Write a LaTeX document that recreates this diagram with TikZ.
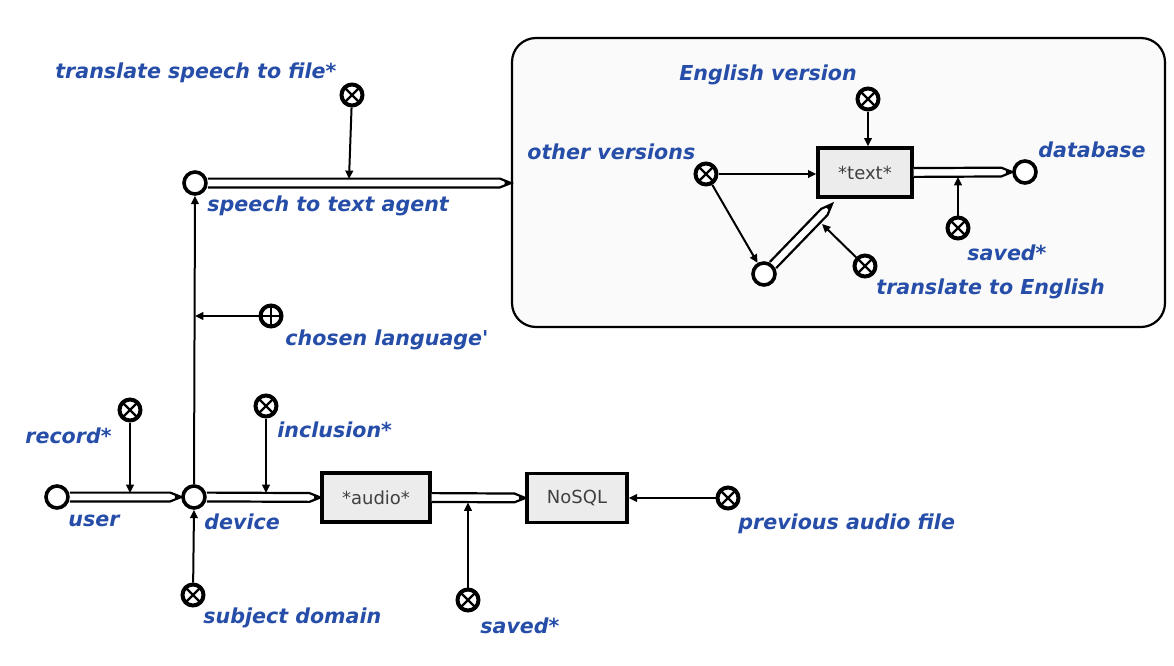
\documentclass[tikz,border=0pt]{standalone}
\usepackage{fontspec}
\newfontfamily\lblfam{DejaVu Sans}
\usetikzlibrary{arrows.meta,calc}
\definecolor{lblblue}{RGB}{38,78,168}
\definecolor{boxgray}{RGB}{236,236,236}
\newcommand\flowarr[2]{%
  \path (#1) coordinate (fa) (#2) coordinate (fb);
  \path ($(fb)!5.5pt!(fa)$) coordinate (fm);
  \draw[line width=1.1pt, fill=white, line join=miter]
    ($(fa)!2.2pt!90:(fb)$) -- ($(fm)!2.2pt!90:(fb)$) -- (fb) --
    ($(fm)!2.2pt!-90:(fb)$) -- ($(fa)!2.2pt!-90:(fb)$);
  \path ($(fb)!3.2pt!(fa)$) coordinate (fn);
  \fill ($(fn)!1.4pt!90:(fb)$) -- (fb) -- ($(fn)!1.4pt!-90:(fb)$) -- cycle;
}
\tikzset{
  place/.style={circle, draw, line width=1.8pt, fill=white, minimum size=11pt, inner sep=0pt},
  ctlx/.style={circle, draw, line width=2pt, fill=white, minimum size=10.5pt, inner sep=0pt,
    path picture={\draw[line width=1.2pt] (path picture bounding box.north west) -- (path picture bounding box.south east)
      (path picture bounding box.north east) -- (path picture bounding box.south west);}},
  ctlp/.style={circle, draw, line width=2pt, fill=white, minimum size=10.5pt, inner sep=0pt,
    path picture={\draw[line width=1.2pt] (path picture bounding box.north) -- (path picture bounding box.south)
      (path picture bounding box.east) -- (path picture bounding box.west);}},
  objbox/.style={rectangle, draw, line width=1.6pt, fill=boxgray, minimum height=24.5pt, inner sep=0pt,
    font=\lblfam\fontsize{9}{10}\selectfont, text=black!75,
    path picture={\fill (path picture bounding box.north west) -- ([xshift=5pt]path picture bounding box.north west)
      -- ([yshift=-5pt]path picture bounding box.north west) -- cycle;}},
  grpbox/.style={rectangle, draw, line width=1.1pt, rounded corners=12pt, fill=black!2, inner sep=0pt},
  lbl/.style={anchor=west, inner sep=0pt, text=lblblue, font=\lblfam\bfseries\itshape\fontsize{10.3}{12}\selectfont},
  ctl/.style={line width=1pt, -{Triangle[length=4.2pt,width=3.8pt]}},
}
\begin{document}
\begin{tikzpicture}[x=0.5pt,y=-0.5pt]
\useasboundingbox[fill=white] (0,0) rectangle (1174,665);
% group box
\node[grpbox, minimum width=326.5pt, minimum height=144.5pt] (grp) at (838.5,182.5) {};
% places
\node[place] (user) at (57,497) {};
\node[place] (device) at (194,497) {};
\node[place] (agent) at (195,183) {};
\node[place] (db) at (1025,172) {};
\node[place] (bc) at (764,274) {};
% boxes
\node[objbox, minimum width=54pt] (audio) at (376,497.5) {*audio*};
\node[objbox, minimum width=50pt] (nosql) at (577,498) {NoSQL};
\node[objbox, minimum width=47pt] (text) at (865,172.5) {*text*};
% control circles
\node[ctlx] (record) at (130,410) {};
\node[ctlx] (incl) at (266,406) {};
\node[ctlx] (subj) at (193,595) {};
\node[ctlx] (saved1) at (468,600) {};
\node[ctlx] (prev) at (728,498) {};
\node[ctlp] (lang) at (271,316) {};
\node[ctlx] (tsf) at (352,95) {};
\node[ctlx] (eng) at (868,99) {};
\node[ctlx] (other) at (706,174) {};
\node[ctlx] (saved2) at (958,228) {};
\node[ctlx] (tte) at (865,266) {};
% coordinates
\coordinate (recT) at (130,493);
\coordinate (inclT) at (266,493);
\coordinate (savedT) at (468,502.5);
\coordinate (tsfT) at (349,179);
\coordinate (saved2T) at (958,177);
\coordinate (tipT) at (832,204);
\coordinate (tteT) at (822,224);
% flows
\flowarr{user.east}{device.west}
\flowarr{device.east}{audio.west}
\flowarr{audio.east}{nosql.west}
\flowarr{agent.east}{grp.west |- agent}
\flowarr{text.east}{db.west}
\flowarr{bc.45}{tipT}
% control arrows
\draw[ctl] (record) -- (recT);
\draw[ctl] (incl) -- (inclT);
\draw[ctl] (subj) -- (device.south);
\draw[ctl] (saved1) -- (savedT);
\draw[ctl] (prev) -- (nosql.east |- prev);
\draw[ctl] (device.north) -- (agent.south);
\draw[ctl] (lang) -- (lang -| agent);
\draw[ctl] (tsf) -- (tsfT);
\draw[ctl] (eng) -- (eng |- text.north);
\draw[ctl] (other) -- (text.west |- other);
\draw[ctl] (other) -- (bc);
\draw[ctl] (saved2) -- (saved2T);
\draw[ctl] (tte) -- (tteT);
% labels
\node[lbl] (l1) at (55,73) {translate speech to file*};
\node[lbl] (l2) at (207,206) {speech to text agent};
\node[lbl] (l3) at (285,340) {chosen language'};
\node[lbl] (l4) at (25,436) {record*};
\node[lbl] (l5) at (277,430) {inclusion*};
\node[lbl] (l6) at (68,521) {user};
\node[lbl] (l7) at (204,522) {device};
\node[lbl] (l8) at (203,618) {subject domain};
\node[lbl] (l9) at (480,626) {saved*};
\node[lbl] (l10) at (738,524) {previous audio file};
\node[lbl] (l11) at (679,75) {English version};
\node[lbl] (l12) at (527,152) {other versions};
\node[lbl] (l13) at (1038,150) {database};
\node[lbl] (l14) at (967,253) {saved*};
\node[lbl] (l15) at (876,289) {translate to English};
\end{tikzpicture}
\end{document}
